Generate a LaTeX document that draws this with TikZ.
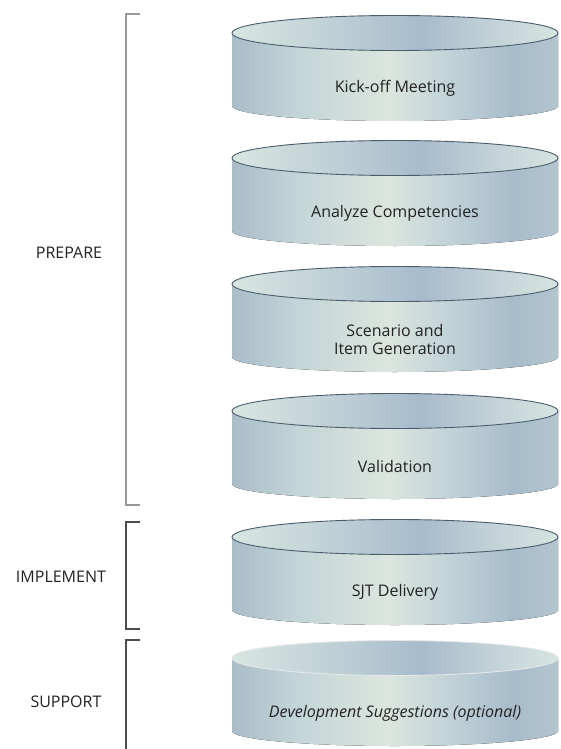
\documentclass[tikz,border=0pt]{standalone}
\usepackage{fontspec}
\setmainfont{Open Sans}
\definecolor{bA}{HTML}{A9BCC9}
\definecolor{bB}{HTML}{C3D5D7}
\definecolor{bC}{HTML}{DCE5DE}
\definecolor{bD}{HTML}{C2D3D8}
\definecolor{bE}{HTML}{A8BBCA}
\definecolor{bF}{HTML}{B3C5CF}
\definecolor{tA}{HTML}{D8E6E1}
\definecolor{tB}{HTML}{C0D1D6}
\definecolor{tC}{HTML}{A8BBCC}
\definecolor{tD}{HTML}{C0D0D6}
\definecolor{tE}{HTML}{D6E5E0}
\definecolor{rim}{HTML}{4A5D6C}
\definecolor{txt}{HTML}{222222}
\pgfdeclarehorizontalshading{bodyshade}{100bp}{color(0bp)=(bA); color(25bp)=(bA); color(35bp)=(bB); color(49bp)=(bC); color(58bp)=(bD); color(68bp)=(bE); color(75bp)=(bF); color(100bp)=(bF)}
\pgfdeclarehorizontalshading{topshade}{100bp}{color(0bp)=(tA); color(25bp)=(tA); color(40bp)=(tB); color(54bp)=(tC); color(64bp)=(tD); color(75bp)=(tE); color(100bp)=(tE)}
\tikzset{
  drumbody/.style={shading=bodyshade},
  drumtop/.style={shading=topshade, draw=rim, line width=0.9pt},
  lbl/.style={font=\fontsize{16}{18}\selectfont, text=txt, align=center, inner sep=0pt},
  grp/.style={font=\fontsize{16}{18}\selectfont, text=txt, inner sep=0pt},
  brk/.style={draw=#1, line width=1.8pt},
}
\newcommand\drum[4]{%
  \fill[drumbody] (232,#1) -- (232,#1+73) arc[start angle=180,end angle=0,x radius=163,y radius=15] -- (558,#1) -- cycle;
  \path[drumtop,#4] (395,#1) ellipse[x radius=163,y radius=17.5];
  \node[lbl] (#2) at (395,#1+55) {#3};
}
\begin{document}
\begin{tikzpicture}[x=1pt,y=-1pt]
\useasboundingbox[fill=white] (0,0) rectangle (561,749);
\drum{33}{kick}{Kick-off Meeting}{}
\drum{158}{analyze}{Analyze Competencies}{}
\drum{284}{scenario}{Scenario and\\Item Generation}{}
\drum{411}{valid}{Validation}{}
\drum{537}{sjt}{SJT Delivery}{}
\drum{658}{dev}{\itshape Development Suggestions (optional)}{draw=white!85!rim}
% brackets
\draw[brk=gray!80] (140,14) -- (126,14) -- (126,505) -- (140,505);
\draw[brk=black!70] (140,522) -- (126,522) -- (126,629) -- (140,629);
\draw[brk=black!70] (140,640) -- (126,640) -- (126,752);
\node[grp] (prep) at (69,253) {PREPARE};
\node[grp] (impl) at (61,577) {IMPLEMENT};
\node[grp] (supp) at (66,702) {SUPPORT};
\end{tikzpicture}
\end{document}
